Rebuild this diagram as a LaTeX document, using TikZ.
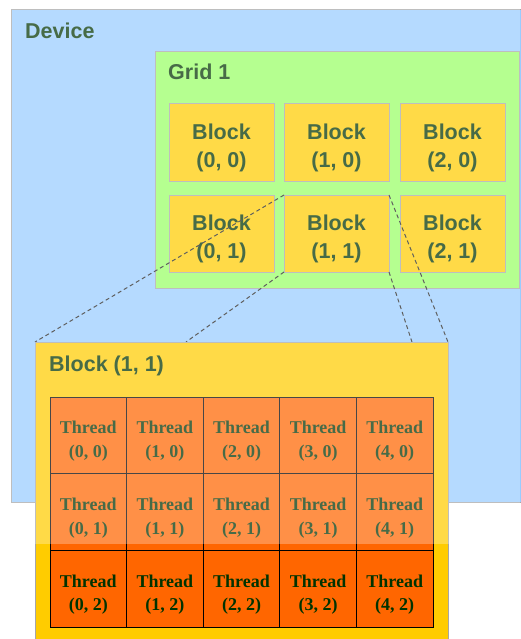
\documentclass[tikz,border=0pt]{standalone}
\usepackage{fontspec}
\setmainfont{Liberation Serif}
\newfontfamily\headfont{Liberation Sans}
\definecolor{devblue}{HTML}{99CCFF}
\definecolor{gridgreen}{HTML}{99FF66}
\definecolor{blockgold}{HTML}{FFCC00}
\definecolor{threadorange}{HTML}{FF6600}
\definecolor{edgegray}{HTML}{A6A6A6}
\definecolor{textgreen}{HTML}{003300}
\definecolor{linkgray}{HTML}{222222}
\begin{document}
\begin{tikzpicture}[x=1pt,y=-1pt,
  panel/.style={draw=edgegray, line width=1pt, inner sep=0pt, outer sep=0pt, anchor=north west},
  headlabel/.style={anchor=base west, inner sep=0pt, text=textgreen,
    font=\headfont\bfseries\fontsize{21.5}{26}\selectfont},
  blockbox/.style={panel, fill=blockgold, minimum width=105pt, minimum height=77pt},
  blocktext/.style={inner sep=0pt, align=center, text=textgreen, yshift=-5pt,
    font=\headfont\bfseries\fontsize{21.5}{28}\selectfont},
  threadbox/.style={draw=black, line width=0.9pt, fill=threadorange, inner sep=0pt, outer sep=0pt,
    anchor=north west, minimum width=76.6pt, minimum height=76.7pt},
  threadtext/.style={inner sep=0pt, align=center, text=textgreen, yshift=-6pt,
    font=\bfseries\fontsize{18}{23.5}\selectfont},
  link/.style={draw=linkgray, line width=1pt, dash pattern=on 4pt off 3pt}]
\useasboundingbox (0,0) rectangle (520,639);
\fill[white] (0,0) rectangle (520,639);

% device and grid
\node[panel, fill=devblue, minimum width=512pt, minimum height=492pt] (device) at (11,10) {};
\node[headlabel] (devlabel) at (25,39) {Device};
\node[panel, fill=gridgreen, minimum width=364pt, minimum height=236pt] (grid) at (155,52) {};
\node[headlabel] (gridlabel) at (168,80) {Grid 1};

% blocks of the grid
\foreach \c/\x in {0/169,1/284,2/400}{
  \foreach \r/\y in {0/104,1/195}{
    \node[blockbox] (b\c\r) at (\x,\y) {};
    \node[blocktext] (bl\c\r) at (b\c\r.center) {Block\\(\c, \r)};
  }
}

% zoom-out lines from block (1,1)
\coordinate (zl) at (186,342);
\coordinate (zr) at (412,342);
\coordinate (zbl) at (35,342);
\coordinate (zbr) at (448,342);
\draw[link] (b11.north west) -- (zbl);
\draw[link] (b11.south west) -- (zl);
\draw[link] (b11.north east) -- (zbr);
\draw[link] (b11.south east) -- (zr);

% enlarged block with its threads
\node[panel, fill=blockgold, minimum width=413pt, minimum height=300pt] (big) at (35,342) {};
\node[headlabel] (biglabel) at (49,371) {Block (1, 1)};
\foreach \c in {0,...,4}{
  \foreach \r in {0,1,2}{
    \node[threadbox] (t\c\r) at ({50+76.6*\c},{397+76.7*\r}) {};
    \node[threadtext] (tl\c\r) at (t\c\r.center) {Thread\\(\c, \r)};
  }
}

% pale wash over the upper part
\fill[white, opacity=0.28] (0,0) rectangle (520,544);
\end{tikzpicture}
\end{document}
